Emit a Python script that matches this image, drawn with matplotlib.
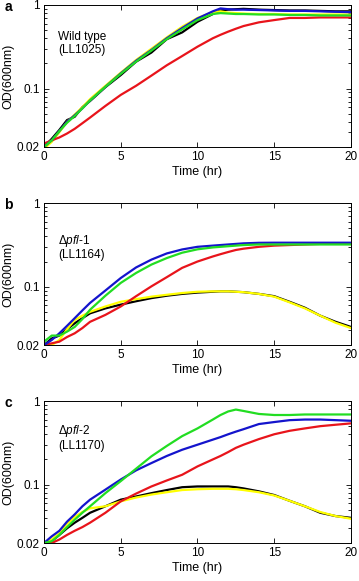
import matplotlib
matplotlib.use("Agg")
import matplotlib.pyplot as plt
from matplotlib.ticker import FixedLocator, NullFormatter, FixedFormatter

plt.rcParams['font.family'] = ['Liberation Sans', 'DejaVu Sans']
plt.rcParams['mathtext.fontset'] = 'custom'
plt.rcParams['mathtext.rm'] = 'Liberation Sans'
plt.rcParams['mathtext.it'] = 'Liberation Sans:italic'

# sampling times (hr), shared by all panels
hours = [0, 0.5, 1, 1.5, 2, 2.5, 3, 4, 5, 6, 7, 8, 9, 10, 11, 11.5, 12, 12.5, 13, 14, 15, 16, 17, 18, 19, 20]

# panel a: wild type (LL1025)
wt_black = [0.020, 0.025, 0.032, 0.042, 0.046, 0.060, 0.071, 0.104, 0.145, 0.21, 0.27, 0.39, 0.47, 0.63, 0.78, 0.86, 0.88, 0.89, 0.90, 0.88, 0.87, 0.86, 0.86, 0.85, 0.84, 0.84]
wt_yellow = [0.019, 0.023, 0.030, 0.040, 0.049, 0.060, 0.075, 0.108, 0.155, 0.22, 0.30, 0.41, 0.55, 0.70, 0.82, 0.84, 0.81, 0.80, 0.79, 0.78, 0.78, 0.77, 0.77, 0.77, 0.77, 0.77]
wt_red = [0.022, 0.024, 0.026, 0.029, 0.033, 0.0385, 0.045, 0.062, 0.084, 0.108, 0.143, 0.19, 0.245, 0.317, 0.40, 0.44, 0.48, 0.52, 0.56, 0.62, 0.66, 0.70, 0.70, 0.71, 0.71, 0.71]
wt_green = [0.020, 0.024, 0.031, 0.039, 0.047, 0.058, 0.072, 0.105, 0.150, 0.21, 0.285, 0.39, 0.51, 0.66, 0.78, 0.80, 0.79, 0.78, 0.78, 0.77, 0.77, 0.76, 0.76, 0.75, 0.75, 0.75]
wt_blue = [0.020, 0.024, 0.031, 0.040, 0.048, 0.058, 0.072, 0.105, 0.152, 0.215, 0.29, 0.40, 0.53, 0.69, 0.84, 0.91, 0.89, 0.88, 0.88, 0.87, 0.86, 0.85, 0.85, 0.84, 0.83, 0.82]

# panel b: delta pfl-1 (LL1164)
p1_black = [0.020, 0.024, 0.026, 0.031, 0.0365, 0.042, 0.048, 0.055, 0.061, 0.067, 0.073, 0.078, 0.082, 0.085, 0.087, 0.088, 0.088, 0.087, 0.086, 0.082, 0.077, 0.066, 0.056, 0.045, 0.038, 0.033]
p1_yellow = [0.018, 0.020, 0.023, 0.031, 0.040, 0.045, 0.050, 0.058, 0.066, 0.071, 0.076, 0.080, 0.084, 0.087, 0.088, 0.088, 0.088, 0.087, 0.086, 0.082, 0.076, 0.065, 0.055, 0.045, 0.037, 0.032]
p1_red = [0.020, 0.021, 0.022, 0.025, 0.0277, 0.032, 0.038, 0.046, 0.058, 0.077, 0.101, 0.13, 0.168, 0.20, 0.23, 0.245, 0.26, 0.275, 0.285, 0.30, 0.31, 0.315, 0.32, 0.325, 0.325, 0.325]
p1_green = [0.022, 0.026, 0.026, 0.029, 0.033, 0.041, 0.053, 0.078, 0.111, 0.146, 0.184, 0.22, 0.255, 0.28, 0.295, 0.30, 0.305, 0.31, 0.315, 0.32, 0.32, 0.32, 0.32, 0.32, 0.32, 0.32]
p1_blue = [0.020, 0.023, 0.0277, 0.034, 0.042, 0.052, 0.064, 0.090, 0.127, 0.17, 0.211, 0.25, 0.279, 0.30, 0.31, 0.315, 0.32, 0.325, 0.33, 0.335, 0.336, 0.336, 0.336, 0.336, 0.336, 0.336]

# panel c: delta pfl-2 (LL1170)
p2_black = [0.020, 0.021, 0.025, 0.030, 0.035, 0.040, 0.046, 0.055, 0.066, 0.072, 0.079, 0.086, 0.093, 0.095, 0.095, 0.095, 0.095, 0.093, 0.090, 0.083, 0.075, 0.064, 0.055, 0.046, 0.042, 0.040]
p2_yellow = [0.020, 0.022, 0.026, 0.034, 0.041, 0.047, 0.052, 0.055, 0.063, 0.070, 0.076, 0.081, 0.086, 0.088, 0.089, 0.089, 0.089, 0.088, 0.086, 0.081, 0.074, 0.064, 0.055, 0.047, 0.042, 0.039]
p2_red = [0.020, 0.020, 0.022, 0.025, 0.028, 0.031, 0.035, 0.046, 0.063, 0.078, 0.095, 0.112, 0.131, 0.165, 0.20, 0.22, 0.245, 0.275, 0.30, 0.35, 0.40, 0.44, 0.47, 0.50, 0.52, 0.54]
p2_green = [0.020, 0.021, 0.025, 0.031, 0.038, 0.046, 0.055, 0.079, 0.11, 0.155, 0.218, 0.29, 0.38, 0.47, 0.60, 0.68, 0.75, 0.79, 0.76, 0.70, 0.68, 0.68, 0.69, 0.69, 0.69, 0.69]
p2_blue = [0.020, 0.024, 0.028, 0.036, 0.044, 0.055, 0.066, 0.087, 0.115, 0.148, 0.181, 0.22, 0.261, 0.30, 0.345, 0.37, 0.40, 0.43, 0.46, 0.53, 0.56, 0.59, 0.60, 0.60, 0.59, 0.58]

panels = [
    ("a", ["Wild type", "(LL1025)"], [0.775, 0.683], [wt_black, wt_yellow, wt_red, wt_blue, wt_green]),
    ("b", ["\u0394$\\mathit{pfl}$-1", "(LL1164)"], [0.733, 0.638], [p1_black, p1_yellow, p1_red, p1_blue, p1_green]),
    ("c", ["\u0394$\\mathit{pfl}$-2", "(LL1170)"], [0.786, 0.685], [p2_black, p2_yellow, p2_red, p2_blue, p2_green]),
]
colors = ['black', '#ffff00', '#e8141b', '#1414cc', '#22dd22']

fig = plt.figure(figsize=(3.59, 5.81), dpi=100)
bottoms = [0.747, 0.406, 0.0654]
for (letter, label, label_y, series), bottom in zip(panels, bottoms):
    ax = fig.add_axes([0.1226, bottom, 0.855, 0.2444])
    for vals, c in zip(series, colors):
        ax.plot(hours, vals, color=c, lw=1.6)
    ax.set_yscale('log')
    ax.set_ylim(0.02, 1)
    ax.set_xlim(0, 20)
    ax.set_xticks([0, 5, 10, 15, 20])
    ax.yaxis.set_major_locator(FixedLocator([0.02, 0.1, 1]))
    ax.yaxis.set_major_formatter(FixedFormatter(['0.02', '0.1', '1']))
    ax.yaxis.set_minor_locator(FixedLocator([0.03, 0.04, 0.05, 0.06, 0.07, 0.08, 0.09,
                                             0.2, 0.3, 0.4, 0.5, 0.6, 0.7, 0.8, 0.9]))
    ax.yaxis.set_minor_formatter(NullFormatter())
    ax.tick_params(which='both', direction='in', top=True, right=True, labelsize=8.5,
                   width=0.6, pad=3)
    ax.tick_params(which='major', length=3.5)
    ax.tick_params(which='minor', length=2)
    for s in ax.spines.values():
        s.set_linewidth(0.7)
    ax.set_xlabel('Time (hr)', fontsize=9, labelpad=2)
    ax.set_ylabel('OD(600nm)', fontsize=9, labelpad=2)
    ax.text(0.046, label_y[0], label[0], transform=ax.transAxes, fontsize=8.5, va='center')
    ax.text(0.046, label_y[1], label[1], transform=ax.transAxes, fontsize=8.5, va='center')
    fig.text(0.012, bottom + 0.2444 - 0.003, letter, fontsize=10, fontweight='bold', va='center')

fig.savefig('out.png', dpi=100)
